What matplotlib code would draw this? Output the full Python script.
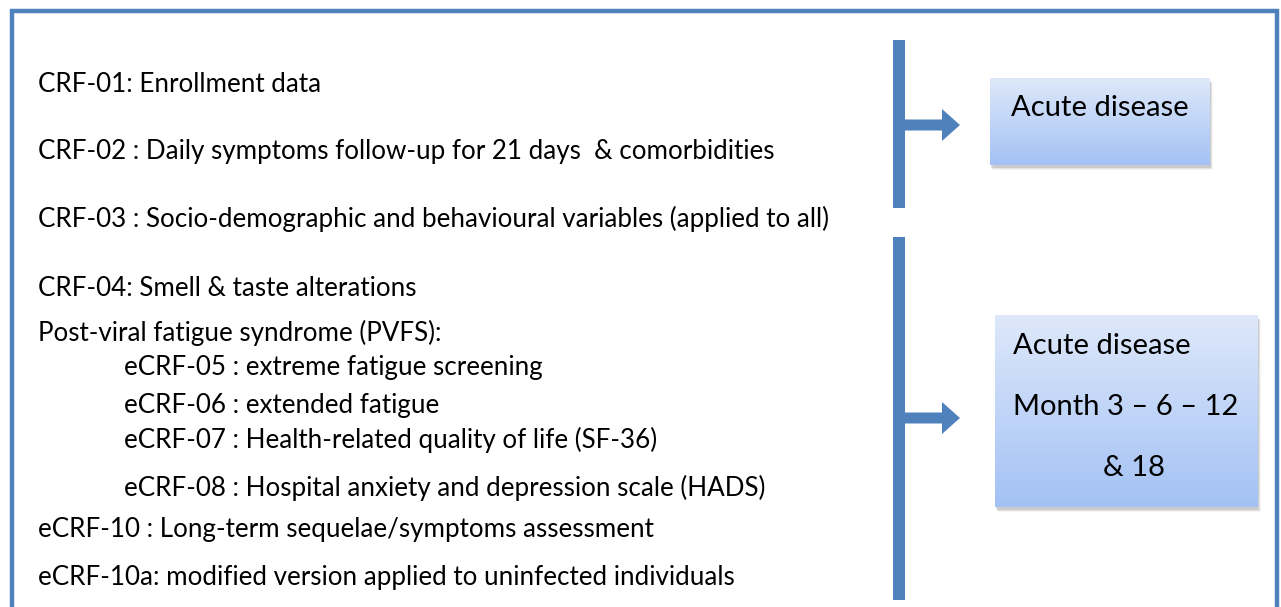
import matplotlib.pyplot as plt
import numpy as np
from matplotlib.patches import Rectangle, FancyArrow

# text content of the diagram
crf_lines = [
    "CRF-01: Enrollment data",
    "CRF-02 : Daily symptoms follow-up for 21 days  & comorbidities",
    "CRF-03 : Socio-demographic and behavioural variables (applied to all)",
    "CRF-04: Smell & taste alterations",
    "Post-viral fatigue syndrome (PVFS):",
    "eCRF-05 : extreme fatigue screening",
    "eCRF-06 : extended fatigue",
    "eCRF-07 : Health-related quality of life (SF-36)",
    "eCRF-08 : Hospital anxiety and depression scale (HADS)",
    "eCRF-10 : Long-term sequelae/symptoms assessment",
    "eCRF-10a: modified version applied to uninfected individuals",
]
indented = [False, False, False, False, False, True, True, True, True, False, False]
box1_text = "Acute disease"
box2_lines = ["Acute disease", "Month 3 \u2013 6 \u2013 12", "& 18"]

# layout (pixel units, y going down)
line_y = [84, 152, 219, 288, 333, 368, 405, 440, 488, 529, 578]
blue = "#4F81BD"
W, H = 1281, 607

fig = plt.figure(figsize=(W / 100, H / 100), dpi=100)
ax = fig.add_axes([0, 0, 1, 1])
ax.set_xlim(0, W)
ax.set_ylim(H, 0)
ax.axis("off")

# outer frame (bottom runs off the picture)
ax.plot([11.5, 11.5, 1276.5, 1276.5], [H + 5, 10.5, 10.5, H + 5],
        color=blue, lw=3.2, solid_joinstyle="miter")

font = ["Lato", "DejaVu Sans"]
for txt, y, ind in zip(crf_lines, line_y, indented):
    ax.text(124 if ind else 38, y, txt, fontsize=18.7, family=font,
            va="center", ha="left", color="black")


def bracket(y0, y1, ya):
    ax.add_patch(Rectangle((893, y0), 12, y1 - y0, color=blue, lw=0))
    ax.add_patch(FancyArrow(900, ya, 60, 0, width=11, head_width=32,
                            head_length=18, length_includes_head=True,
                            color=blue, lw=0))


def grad_box(x0, y0, x1, y1):
    # soft shadow
    for k, a in enumerate([0.10, 0.07, 0.04]):
        ax.add_patch(Rectangle((x0 + 1 + k, y0 + 3 + k), x1 - x0, y1 - y0,
                               color="black", alpha=a, lw=0))
    top = np.array([0.87, 0.91, 0.98])
    bot = np.array([0.64, 0.76, 0.96])
    t = np.linspace(0, 1, 100)[:, None]
    img = (top * (1 - t) + bot * t)[:, None, :]
    ax.imshow(img, extent=(x0, x1, y1, y0), aspect="auto", zorder=2,
              interpolation="bilinear")


bracket(40, 208, 125)
bracket(237, 600, 418)
grad_box(990, 78, 1210, 165)
grad_box(995, 315, 1258, 507)
ax.set_xlim(0, W)
ax.set_ylim(H, 0)

bfs = 21
ax.text(1100, 108, box1_text, fontsize=bfs, family=font, ha="center",
        va="center", zorder=3)
ax.text(1013, 346, box2_lines[0], fontsize=bfs, family=font, ha="left",
        va="center", zorder=3)
ax.text(1013, 407, box2_lines[1], fontsize=bfs, family=font, ha="left",
        va="center", zorder=3)
ax.text(1134, 468, box2_lines[2], fontsize=bfs, family=font, ha="center",
        va="center", zorder=3)

fig.savefig("out.png", dpi=100)
